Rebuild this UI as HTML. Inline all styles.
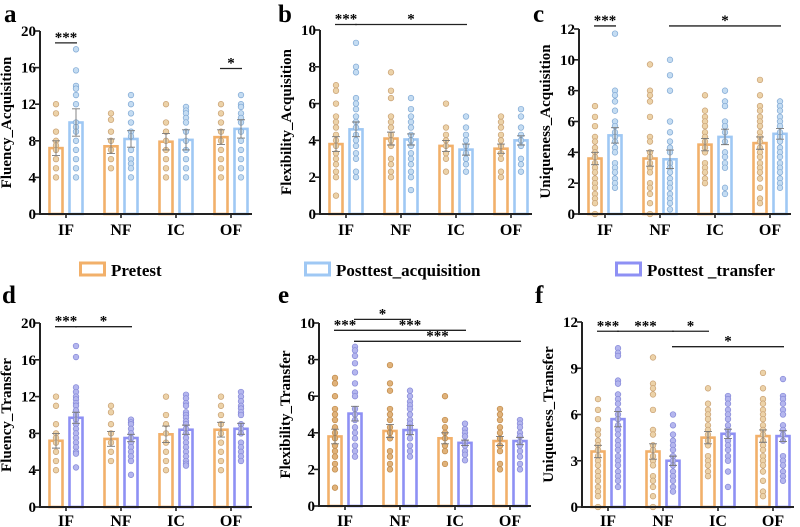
<!DOCTYPE html>
<html><head><meta charset="utf-8"><style>
html,body{margin:0;padding:0;background:#fff;}
svg{display:block;}
text{font-family:"Liberation Serif","DejaVu Serif",serif;font-weight:bold;}
</style></head><body>
<svg id="fig" width="800" height="527" viewBox="0 0 800 527" font-family="Liberation Serif, serif" font-weight="bold"></svg>
<script>
const categories = ["IF","NF","IC","OF"];
// pretest values (shared across acquisition/transfer panels)
const preMeansFlu = [7.2,7.4,7.9,8.4];
const preSEFlu = [0.8,0.8,0.9,0.8];
const preDotsFlu = [[12,11,9,8,7.5,7,6,5,4],[11,10.3,9,8,7,6,5],[12,10,9,8,7,6,5,4],[12,11,10,9,8,7,6,5,4]];
const preMeansFlex = [3.8,4.1,3.7,3.55];
const preSEFlex = [0.4,0.35,0.3,0.25];
const preDotsFlex = [[7,6.7,6,5.3,5,4.7,4.3,4,3.7,3.3,3,2.7,2.3,2,1],[7.7,6.7,6.3,5.3,5,4.7,4.3,4,3.7,3,2.7,2.3,2],[6,4.7,4.3,4,3.7,3.3,3,2.3],[5.3,5,4.7,4.3,4,3.7,3.3,3,2.3,2]];
const preMeansUni = [3.6,3.6,4.5,4.6];
const preSEUni = [0.4,0.5,0.4,0.4];
const preDotsUni = [[7,6.3,5.7,5,4.7,4.3,4,3.7,3.3,3,2.7,2.3,2,1.7,1.3,1,0.7,0],[9.7,8,7.7,7.3,6.3,5,4.7,4,3.7,3.3,3,2.7,2,1.7,1.3,0.7,0],[7.7,6.7,6.3,6,5.7,5.3,5,4.7,4.3,4,3.3,3,2.7,2.3,2],[8.7,7.7,7,6.7,6.3,6,5.7,5.3,5,4.7,4.3,4,3.7,3.3,3,2.7,2.3,1.7,1,0.7]];
// posttest acquisition
const acqMeansFlu = [10,8.2,8.1,9.3];
const acqSEFlu = [1.5,0.9,1.1,1.0];
const acqDotsFlu = [[18,15.7,14,13.7,13,12,10,9.5,9,8,7,6,5,4],[13,12,11,10,9,8.5,7,6,5.5,5,4],[11.7,11.3,11,10.5,10,9,8,7,6,5,4],[13,12,11.7,11,10.5,10,9,8,7,6,5,4]];
const acqMeansFlex = [4.6,4.05,3.5,4.0];
const acqSEFlex = [0.4,0.3,0.3,0.25];
const acqDotsFlex = [[9.3,8,7.7,6.3,6,5.7,5.3,5,4.7,4.3,4,3.7,3.3,3,2.3,2],[6.3,5.7,5.3,5,4.7,4.3,4,3.7,3.3,3,2.7,2.3,2,1.3],[5.3,4.7,4.3,4,3.7,3.3,3,2.7,2.3],[5.7,5.3,4.7,4.3,4,3.7,3,2.7,2.3]];
const acqMeansUni = [5.1,3.55,5.0,5.2];
const acqSEUni = [0.5,0.6,0.5,0.35];
const acqDotsUni = [[11.7,8,7.7,7.3,6.7,6,5.7,5.3,5,4.7,4.3,4,3.3,3,2.7,2.3,2,1.7],[10,9,8,6,5.3,4.7,4.3,4,3.3,3,2.7,2.3,2,1.7,1.3,1,0.7,0.3],[8,7.3,7,6,5.7,5.3,4.7,4,3.7,3.3,3,1.7,1.3],[7.3,7,6.7,6.3,6,5.7,5.3,5,4.7,4.3,4,3.7,3.3,3,2.7,2.3,2,1.7]];
// posttest transfer
const trMeansFlu = [9.7,7.5,8.4,8.5];
const trSEFlu = [0.6,0.4,0.5,0.6];
const trDotsFlu = [[17.5,16.3,13,12.5,12,11.7,11.3,11,10.5,10,9.5,9,8.5,8,7.5,7,6.5,6,5.8,4.3],[9.5,9.2,9,8.5,8,7.5,7,6.5,6,5.5,5,3.5],[12.2,11.8,11.3,11,10.3,10,9.7,9.3,9,8.5,8,7.5,7,6.5,6,5.5,5,4.7,4.5],[12.5,12,11.5,11,10.7,10.3,10,9,8.5,8,7,6.5,6,5.5,5]];
const trMeansFlex = [5.05,4.15,3.45,3.55];
const trSEFlex = [0.4,0.25,0.15,0.2];
const trDotsFlex = [[8.7,8.5,8.2,7.8,7.3,6.7,6.2,6,5.3,5,4.7,4.3,4,3.7,3.3,3,2.7],[6.3,6,5.7,5.5,5.3,5,4.7,4.5,4.3,4,3.7,3.3,3,2.7],[4.5,4.2,4,3.8,3.5,3.3,3,2.8,2.5],[4.7,4.5,4.3,4,3.8,3.5,3.3,3,2.7,2.3,2]];
const trMeansUni = [5.7,3.0,4.75,4.6];
const trSEUni = [0.5,0.3,0.3,0.35];
const trDotsUni = [[10.3,10,9.8,8.2,8,7.3,7,6.7,6.3,6,5.7,5.3,5,4.7,4.3,4,3.7,3.3,3,2.7,2.3,2,1.7,1.3],[6,5.3,4.7,4.3,4,3.7,3.3,3,2.7,2.3,2,1.7,1.3,1],[7.2,7,6.7,6.3,6,5.7,5.3,5,4.7,4.3,4,3.7,3.3,3,2.3,1.3],[8.3,7.2,7,6.7,6.3,6,5.3,5,4.7,4.3,3.3,3,2.7,2.3,2,1.7]];
const ticksFlu = [0,4,8,12,16,20];
const ticksFlex = [0,2,4,6,8,10];
const ticksUniA = [0,2,4,6,8,10,12];
const ticksUniT = [0,3,6,9,12];
// significance: [groupA, seriesA(0 pre/1 post), groupB, seriesB, yValue, label]
const sigA = [[0,0,0,1,18.7,"***"],[3,0,3,1,15.9,"*"]];
const sigB = [[0,0,0,1,10.3,"***"],[0,1,2,1,10.3,"*"]];
const sigC = [[0,0,0,1,12.2,"***"],[1,1,3,1,12.2,"*"]];
const sigD = [[0,0,0,1,19.6,"***"],[0,1,1,1,19.6,"*"]];
const sigE = [[0,0,0,1,9.6,"***"],[0,1,1,1,10.2,"*"],[0,1,2,1,9.6,"***"],[0,1,3,1,9.0,"***"]];
const sigF = [[0,0,0,1,11.4,"***"],[0,1,1,1,11.4,"***"],[1,1,2,0,11.4,"*"],[1,1,3,1,10.4,"*"]];

const NS="http://www.w3.org/2000/svg";
const svg=document.getElementById('fig');
const FF="Liberation Serif, DejaVu Serif, serif";
function mk(tag,attrs,parent){const e=document.createElementNS(NS,tag);for(const k in attrs)e.setAttribute(k,attrs[k]);if(tag==='text'){e.setAttribute('font-family',FF);e.setAttribute('font-weight','bold');}(parent||svg).appendChild(e);return e;}

const PRE={stroke:"#f2b06a",dot:"#ecd2a8",dotE:"#c9a173"};
const ACQ={stroke:"#9fc8f4",dot:"#c4dcf2",dotE:"#7fa8d4"};
const TR={stroke:"#8e90f4",dot:"#b4b6ee",dotE:"#8588d8"};

function panel(o){
  const g=mk('g',{});
  
  
  const ax=o.ax, top=o.top, bot=o.bot, max=o.ticks[o.ticks.length-1];
  const y=v=>bot-(v/max)*(bot-top);
  const gx=i=>ax+26+i*55;
  const sx=(i,s)=>gx(i)+(s===0?-10:10);
  const L=mk('text',{x:o.lx,y:o.ly,'font-size':25},g);L.textContent=o.letter;
  
  
  const cy=(top+bot)/2;
  const T=mk('text',{x:ax-29,y:cy,'font-size':15,'text-anchor':'middle',transform:`rotate(-90 ${ax-29} ${cy})`},g);T.textContent=o.title;
  
  
  const sers=[[o.pm,o.pse,o.pd,o.preC],[o.qm,o.qse,o.qd,o.postC]];
  sers.forEach((s,si)=>{
    categories.forEach((c,i)=>{
      const cx=sx(i,si);
      const r=mk('rect',{x:cx-6.5,y:y(s[0][i]),width:13,height:bot-y(s[0][i]),fill:"#fff",stroke:s[3].stroke,'stroke-width':2.6},g);
      
      
      s[2][i].forEach(v=>{
        const d=mk('circle',{cx:cx,cy:y(v),r:2.8,fill:s[3].dot,stroke:s[3].dotE,'stroke-width':0.7},g);
        
        
      });
      const m=s[0][i],e=s[1][i];
      const eb=mk('path',{d:`M${cx} ${y(m-e)}V${y(m+e)}M${cx-4} ${y(m+e)}H${cx+4}M${cx-4} ${y(m-e)}H${cx+4}`,stroke:"#777",'stroke-width':0.9,fill:"none"},g);
      
      
    });
  });
  const a=mk('path',{d:`M${ax} ${top}V${bot}H${ax+212}`,stroke:"#222",'stroke-width':2,fill:"none"},g);
  
  
  o.ticks.forEach(t=>{
    mk('line',{x1:ax-5,x2:ax,y1:y(t),y2:y(t),stroke:"#222",'stroke-width':1.6},g);
    const tl=mk('text',{x:ax-4,y:y(t)+5,'font-size':15,'text-anchor':'end'},g);tl.textContent=t;
    
    
  });
  categories.forEach((c,i)=>{
    mk('line',{x1:gx(i),x2:gx(i),y1:bot,y2:bot+4,stroke:"#222",'stroke-width':1.6},g);
    const xl=mk('text',{x:gx(i),y:bot+o.xo,'font-size':16,'text-anchor':'middle'},g);xl.textContent=c;
    
    
  });
  o.sig.forEach(s=>{
    const x1=sx(s[0],s[1])-1,x2=sx(s[2],s[3])+1,yy=y(s[4]);
    const ln=mk('line',{x1:x1,x2:x2,y1:yy,y2:yy,stroke:"#222",'stroke-width':1.3},g);
    
    
    const st=mk('text',{x:(x1+x2)/2,y:yy-1,'font-size':15,'text-anchor':'middle'},g);st.textContent=s[5];
    
    
  });
}
panel({name:'panel-a',letter:'a',lx:4,ly:22,ax:40,top:31,bot:214,xo:21,ticks:ticksFlu,title:'Fluency_Acquisition',pm:preMeansFlu,pse:preSEFlu,pd:preDotsFlu,qm:acqMeansFlu,qse:acqSEFlu,qd:acqDotsFlu,preC:PRE,postC:ACQ,sig:sigA});
panel({name:'panel-b',letter:'b',lx:278,ly:22,ax:320,top:30,bot:214,xo:21,ticks:ticksFlex,title:'Flexibility_Acquisition',pm:preMeansFlex,pse:preSEFlex,pd:preDotsFlex,qm:acqMeansFlex,qse:acqSEFlex,qd:acqDotsFlex,preC:PRE,postC:ACQ,sig:sigB});
panel({name:'panel-c',letter:'c',lx:533,ly:22,ax:579,top:29,bot:214,xo:21,ticks:ticksUniA,title:'Uniqueness_Acquisition',pm:preMeansUni,pse:preSEUni,pd:preDotsUni,qm:acqMeansUni,qse:acqSEUni,qd:acqDotsUni,preC:PRE,postC:ACQ,sig:sigC});
const PRE2={stroke:"#f2b06a",dot:"#e0b27a",dotE:"#c08a4a"};
panel({name:'panel-d',letter:'d',lx:2,ly:303,ax:40,top:323,bot:507,xo:19,ticks:ticksFlu,title:'Fluency_Transfer',pm:preMeansFlu,pse:preSEFlu,pd:preDotsFlu,qm:trMeansFlu,qse:trSEFlu,qd:trDotsFlu,preC:PRE,postC:TR,sig:sigD});
panel({name:'panel-e',letter:'e',lx:278,ly:303,ax:319,top:323,bot:506,xo:20,ticks:ticksFlex,title:'Flexibility_Transfer',pm:preMeansFlex,pse:preSEFlex,pd:preDotsFlex,qm:trMeansFlex,qse:trSEFlex,qd:trDotsFlex,preC:PRE2,postC:TR,sig:sigE});
panel({name:'panel-f',letter:'f',lx:535,ly:303,ax:582,top:322,bot:507,xo:19,ticks:ticksUniT,title:'Uniqueness_Transfer',pm:preMeansUni,pse:preSEUni,pd:preDotsUni,qm:trMeansUni,qse:trSEUni,qd:trDotsUni,preC:PRE,postC:TR,sig:sigF});
[[79,'Pretest',PRE.stroke,'legend-pretest'],[304,'Posttest_acquisition',ACQ.stroke,'legend-posttest-acquisition'],[615,'Posttest _transfer',TR.stroke,'legend-posttest-transfer']].forEach(l=>{
  const g=mk('g',{});
  
  
  mk('rect',{x:l[0]+1.5,y:263,width:24,height:12,fill:'#fff',stroke:l[2],'stroke-width':3},g);
  const t=mk('text',{x:l[0]+32,y:276,'font-size':17},g);t.textContent=l[1];
});
</script>
</body></html>
